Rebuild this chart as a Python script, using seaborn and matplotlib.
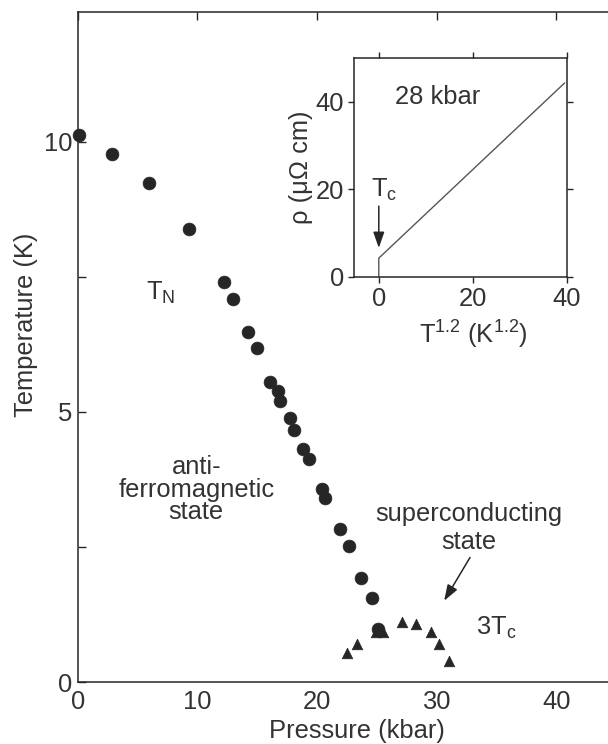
import matplotlib
matplotlib.use("Agg")
import matplotlib.pyplot as plt
import seaborn as sns
import pandas as pd

sns.set_theme(style="white")
plt.rcParams["font.family"] = ["Liberation Sans", "DejaVu Sans"]
plt.rcParams["mathtext.fontset"] = "custom"
plt.rcParams["mathtext.rm"] = "Liberation Sans"
plt.rcParams["mathtext.it"] = "Liberation Sans"
plt.rcParams["mathtext.bf"] = "Liberation Sans"

INK = "#262626"
TXT = "#333333"
FS = 18.4

# Neel temperature T_N versus pressure
tn_pressure = [0.06, 2.87, 5.93, 9.27, 12.2, 13.0, 14.2, 15.0, 16.1, 16.7, 16.9,
               17.7, 18.1, 18.8, 19.3, 20.4, 20.7, 21.9, 22.7, 23.7, 24.6, 25.1]
tn_temp = [10.13, 9.77, 9.23, 8.38, 7.40, 7.09, 6.47, 6.19, 5.56, 5.39, 5.20,
           4.89, 4.67, 4.31, 4.13, 3.57, 3.41, 2.83, 2.52, 1.92, 1.56, 0.98]

# superconducting transition, plotted as 3*Tc
tc_pressure = [22.5, 23.3, 24.9, 25.5, 27.1, 28.3, 29.5, 30.2, 31.0]
tc_temp3 = [0.54, 0.71, 0.92, 0.93, 1.12, 1.07, 0.93, 0.71, 0.39]

# resistivity at 28 kbar versus T^1.2
rho_x = [0.0, 0.0, 39.5]
rho_y = [0.0, 4.3, 44.3]

main_xticks = [0, 10, 20, 30, 40]
main_yticks = [0, 5, 10]
inset_xticks = [0, 20, 40]
inset_yticks = [0, 20, 40]

tn_df = pd.DataFrame({"pressure": tn_pressure, "T": tn_temp})
tc_df = pd.DataFrame({"pressure": tc_pressure, "T": tc_temp3})
rho_df = pd.DataFrame({"x": rho_x, "rho": rho_y})

fig = plt.figure(figsize=(6.08, 7.44), dpi=100)
ax = fig.add_axes([0.128, 0.0833, 0.919, 0.9005])

sns.scatterplot(data=tn_df, x="pressure", y="T", ax=ax, marker="o", s=85,
                color=INK, edgecolor=INK, linewidth=0.5, zorder=3, clip_on=False)
sns.scatterplot(data=tc_df, x="pressure", y="T", ax=ax, marker="^", s=58,
                color=INK, edgecolor=INK, linewidth=0.5, zorder=3)

ax.set_xlim(0, 46.7)
ax.set_ylim(0, 12.4)
ax.set_xticks(main_xticks)
ax.set_yticks(main_yticks)
ax.set_yticks([2.5, 7.5], minor=True)
ax.tick_params(axis="both", which="both", direction="in", length=6, width=1.0,
               colors=INK, labelsize=FS, labelcolor=TXT)
ax.tick_params(axis="x", top=True, pad=6)
ax.tick_params(axis="y", left=True, which="both", pad=4)
ax.set_xlabel("Pressure (kbar)", fontsize=FS, color=TXT, labelpad=3)
ax.set_ylabel("Temperature (K)", fontsize=FS, color=TXT)
ax.yaxis.set_label_coords(-0.072, 0.533)
for sp in ax.spines.values():
    sp.set_color(INK)
    sp.set_linewidth(1.1)

ax.text(5.7, 7.2, r"T$_\mathrm{N}$", fontsize=FS, color=TXT, va="center")
ax.text(9.9, 3.56, "anti-\nferromagnetic\nstate", fontsize=FS, color=TXT,
        ha="center", va="center", linespacing=0.92)
ax.text(32.7, 2.85, "superconducting\nstate", fontsize=FS, color=TXT,
        ha="center", va="center", linespacing=1.2)
ax.text(33.3, 1.0, r"3T$_\mathrm{c}$", fontsize=FS, color=TXT, va="center")
ax.annotate("", xy=(30.5, 1.46), xytext=(32.9, 2.35),
            arrowprops=dict(arrowstyle="-|>,head_length=0.8,head_width=0.28",
                            color=INK, lw=1.1))

# inset: resistivity at 28 kbar
ins = fig.add_axes([0.582, 0.6277, 0.3506, 0.2944])
sns.lineplot(data=rho_df, x="x", y="rho", ax=ins, sort=False, estimator=None,
             color="#555555", linewidth=1.0)
ins.set_xlim(-5.3, 40)
ins.set_ylim(0, 50)
ins.set_xticks(inset_xticks)
ins.set_yticks(inset_yticks)
ins.tick_params(axis="both", direction="out", length=4, width=1.0, colors=INK,
                labelsize=FS, labelcolor=TXT, pad=3)
ins.tick_params(top=True, right=True, bottom=True, left=True)
ins.set_xlabel(r"T$^{1.2}$ (K$^{1.2}$)", fontsize=FS, color=TXT)
ins.xaxis.set_label_coords(0.56, -0.19)
ins.set_ylabel(r"ρ (μΩ cm)", fontsize=FS, color=TXT, labelpad=2)
for sp in ins.spines.values():
    sp.set_color(INK)
    sp.set_linewidth(1.1)
ins.text(3.4, 41, "28 kbar", fontsize=FS, color=TXT, va="center")
ins.text(-1.7, 19.8, r"T$_\mathrm{c}$", fontsize=FS, color=TXT, va="center")
ins.annotate("", xy=(0, 6.0), xytext=(0, 16.8),
             arrowprops=dict(arrowstyle="-|>,head_length=0.8,head_width=0.28",
                             color=INK, lw=1.1))

fig.savefig("out.png", dpi=100, facecolor="white")
